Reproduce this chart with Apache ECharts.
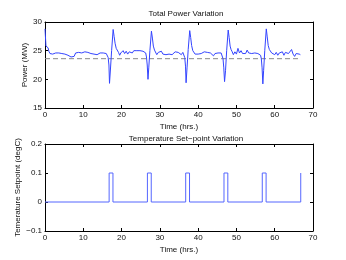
<!DOCTYPE html>
<html>
<head>
<meta charset="utf-8">
<script src="https://cdn.jsdelivr.net/npm/echarts@6/dist/echarts.min.js"></script>
<style>html,body{margin:0;padding:0;background:#fff}#c{width:346px;height:260px}</style>
</head>
<body>
<div id="c"></div>
<script>
var powerTime = [0,0.25,0.5,0.8,1.0,1.3,1.7,2,2.4,2.8,3.2,3.6,4,4.4,4.8,5.2,5.6,6,6.4,6.8,7.2,7.6,8,8.4,8.8,9.2,9.6,10,10.4,10.8,11.2,11.6,12,12.4,12.8,13.2,13.6,14,14.4,14.8,15.2,15.6,16,16.3,16.5,16.7,16.85,17.1,17.4,17.8,18.05,18.3,18.6,18.9,19.2,19.5,19.8,20.1,20.4,20.8,21.2,21.6,22,22.4,22.8,23.2,23.6,24,24.4,24.8,25.2,25.6,26,26.3,26.5,26.7,26.9,27.1,27.4,27.8,28.05,28.3,28.6,28.9,29.2,29.6,30,30.4,30.8,31.2,31.6,32,32.4,32.8,33.2,33.6,34,34.4,34.8,35.2,35.6,36,36.3,36.5,36.7,36.85,37.1,37.4,37.8,38.05,38.3,38.6,38.9,39.2,39.6,40,40.4,40.8,41.2,41.6,42,42.4,42.8,43.2,43.6,44,44.4,44.8,45.2,45.6,46,46.3,46.5,46.7,46.9,47.15,47.45,47.85,48.1,48.35,48.6,48.9,49.2,49.6,50,50.4,50.8,51.2,51.6,52,52.4,52.8,53.2,53.6,54,54.4,54.8,55.2,55.6,56,56.3,56.5,56.7,56.9,57.1,57.4,57.8,58.05,58.3,58.6,58.9,59.2,59.6,60,60.4,60.8,61.2,61.6,62,62.4,62.8,63.2,63.6,64,64.4,64.8,65.2,65.6,66,66.4,66.7];
var powerMW = [28.8,25.8,25.5,25.5,24.9,24.5,24.7,24.4,24.7,24.6,24.8,24.6,24.8,24.5,24.7,24.4,24.5,24.2,24.3,23.9,24.2,24.0,24.6,24.3,24.7,24.4,24.6,24.3,24.8,25.1,24.7,25.0,24.5,24.6,24.4,24.7,24.3,24.5,24.6,24.3,24.6,24.4,24.5,24.2,23.8,22.5,19.3,21.8,25.0,28.7,27.5,26.3,25.4,25.3,24.7,24.2,24.6,24.3,25.0,24.5,24.9,24.4,24.8,24.9,24.6,25.0,24.7,25.0,24.8,25.0,24.7,24.9,24.8,24.6,23.9,22.5,20.0,22.0,25.0,28.4,27.2,25.8,25.1,24.8,24.3,24.7,24.4,24.9,24.4,24.6,24.3,24.6,24.4,24.6,24.3,24.5,24.8,24.5,24.7,24.6,24.3,24.7,24.4,23.8,22.3,19.4,22.0,25.2,28.5,27.3,25.9,25.0,24.7,24.4,24.6,24.4,24.7,24.5,24.6,24.8,24.5,24.7,24.4,24.6,24.3,24.1,24.5,24.3,24.6,24.4,24.6,24.3,23.6,22.0,19.6,21.5,25.0,28.6,27.3,25.8,25.2,24.8,24.3,24.8,24.4,25.4,24.6,25.0,24.5,24.8,24.5,25.1,24.6,24.8,24.5,24.4,24.6,24.3,24.5,24.5,24.2,23.6,22.0,19.2,21.5,25.0,28.8,27.4,25.9,25.2,25.0,24.6,24.8,24.3,24.7,24.2,24.6,24.3,24.8,24.2,24.7,24.4,24.5,24.2,25.2,24.4,24.0,24.5,24.2,24.4,24.3];
var baselineTime = [0, 66.7];
var baselineMW = [23.6, 23.6];
var setpointTime = [0,16.75,17.75,26.75,27.75,36.75,37.75,46.75,47.75,56.75,57.75,66.8];
var setpointValue = [0,0.1,0,0.1,0,0.1,0,0.1,0,0.1,0,0.1];
var xTicks = [0,10,20,30,40,50,60,70];
var powerTicks = [15,20,25,30];
var setpointTicks = [-0.1,0,0.1,0.2];

function pairs(a,b){return a.map(function(v,i){return [v,b[i]];});}
var FONT = '"Liberation Sans", Arial, sans-serif';
var txt = {color:'#111', fontSize:8, fontFamily:FONT};
function xAx(grid, pos, labels, name){
  return {type:'value', gridIndex:grid, position:pos, min:0, max:70, interval:10,
    axisLine:{show:true, onZero:false, lineStyle:{color:'#000', width:1}},
    axisTick:{show:true, inside:true, length:3, lineStyle:{color:'#000'}},
    axisLabel:{show:labels, margin:3, color:'#111', fontSize:8, fontFamily:FONT},
    splitLine:{show:false},
    name:name||'', nameLocation:'middle', nameGap:15, nameMoveOverlap:false, nameTextStyle:txt};
}
function yAx(grid, pos, labels, mn, mx, iv, name, gap, fmt){
  return {type:'value', gridIndex:grid, position:pos, min:mn, max:mx, interval:iv,
    axisLine:{show:true, onZero:false, lineStyle:{color:'#000', width:1}},
    axisTick:{show:true, inside:true, length:3, lineStyle:{color:'#000'}},
    axisLabel:{show:labels, margin:3, color:'#111', fontSize:8, fontFamily:FONT, formatter:fmt},
    splitLine:{show:false},
    name:name||'', nameLocation:'middle', nameGap:gap||0, nameMoveOverlap:false, nameTextStyle:txt};
}
var chart = echarts.init(document.getElementById('c'), null, {renderer:'canvas'});
chart.setOption({
  animation:false,
  backgroundColor:'#fff',
  title:[
    {text:'Total Power Variation', left:181, top:5, textAlign:'center', textStyle:{color:'#111', fontSize:8, fontWeight:'normal', fontFamily:FONT}},
    {text:'Temperature Set\u2212point Variation', left:181, top:130, textAlign:'center', textStyle:{color:'#111', fontSize:8, fontWeight:'normal', fontFamily:FONT}}
  ],
  grid:[
    {left:45, top:22, width:268, height:86},
    {left:45, top:144, width:268, height:87}
  ],
  xAxis:[
    xAx(0,'bottom',true,'Time (hrs.)'),
    xAx(0,'top',false),
    xAx(1,'bottom',true,'Time (hrs.)'),
    xAx(1,'top',false)
  ],
  yAxis:[
    yAx(0,'left',true,15,30,5,'Power (MW)',16),
    yAx(0,'right',false,15,30,5),
    yAx(1,'left',true,-0.1,0.2,0.1,'Temerature Setpoint (degC)',23,function(v){var s=(Math.round(v*10)/10).toString(); return s.replace('-','\u2212');}),
    yAx(1,'right',false,-0.1,0.2,0.1)
  ],
  series:[
    {type:'line', xAxisIndex:0, yAxisIndex:0, data:pairs(baselineTime,baselineMW), showSymbol:false, symbol:'none',
      lineStyle:{color:'#888', width:1, type:[5,3]}, silent:true},
    {type:'line', xAxisIndex:0, yAxisIndex:0, data:pairs(powerTime,powerMW), showSymbol:false, symbol:'none',
      lineStyle:{color:'#3344ff', width:1}, silent:true},
    {type:'line', xAxisIndex:2, yAxisIndex:2, data:pairs(setpointTime,setpointValue), step:'end', showSymbol:false, symbol:'none',
      lineStyle:{color:'#5566ff', width:1}, silent:true}
  ]
});
</script>
</body>
</html>
